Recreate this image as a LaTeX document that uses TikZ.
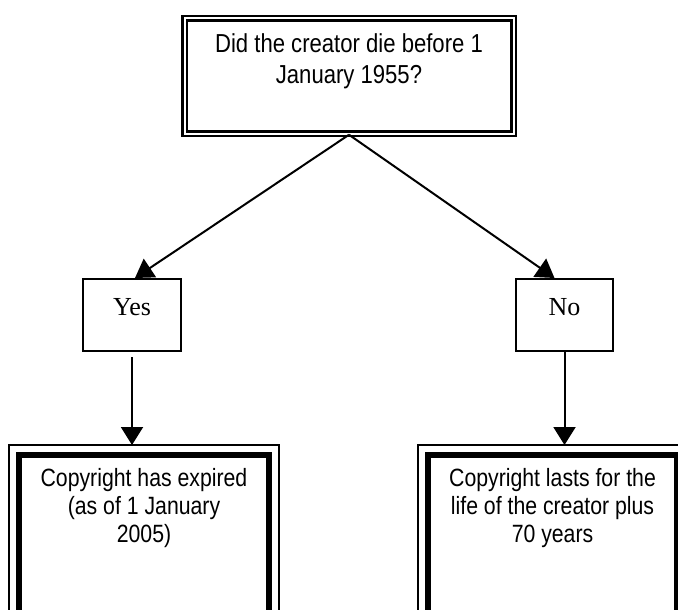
\documentclass[tikz,border=0pt]{standalone}
\usepackage{fontspec}
\setmainfont{Liberation Serif}
\newfontfamily\narrowsf[FakeStretch=0.85]{Liberation Sans}
\usetikzlibrary{arrows.meta,positioning,calc}

\tikzset{
  question/.style={draw, double, line width=2.5pt, double distance=2pt, inner sep=0pt},
  answer/.style={draw, line width=2pt, inner sep=0pt},
  result/.style={draw, line width=6pt, inner sep=0pt},
  link/.style={line width=2pt, -{Triangle[width=22pt,length=18pt]}},
}

\begin{document}
\begin{tikzpicture}[x=1pt, y=-1pt]
    \clip (0,0) rectangle (678,610);

    % Question
    \node[question] (q) at (349,76)
        {\parbox[c][115pt][t]{329pt}{\centering\narrowsf\fontsize{26}{31}\selectfont
        \vspace*{14.8pt}Did the creator die before 1\\ January 1955?}};

    % Answers
    \node[answer] (yes) at (132,315)
        {\parbox[c][72pt][t]{98pt}{\centering\fontsize{26}{30}\selectfont\vspace*{19pt}Yes}};
    \node[answer] (no) at (564.5,315)
        {\parbox[c][72pt][t]{97pt}{\centering\fontsize{26}{30}\selectfont\vspace*{19pt}No}};

    % Results
    \node[result] (expired) at (144,538.5)
        {\parbox[c][167pt][t]{250pt}{\centering\narrowsf\fontsize{25}{28}\selectfont
        \vspace*{13.75pt}Copyright has expired\\ (as of 1 January\\ 2005)}};
    \node[result] (lasts) at (552.5,538.5)
        {\parbox[c][167pt][t]{249pt}{\centering\narrowsf\fontsize{25}{28}\selectfont
        \vspace*{13.75pt}Copyright lasts for the\\ life of the creator plus\\ 70 years}};

    % Thin outer frames
    \draw[line width=2pt] ($(expired.north west)+(-7,-7)$) rectangle ($(expired.south east)+(7,7)$);
    \draw[line width=2pt] ($(lasts.north west)+(-7,-7)$) rectangle ($(lasts.south east)+(7,7)$);

    % Arrows
    \draw[link] (q.south) -- ([xshift=3pt]yes.north);
    \draw[link] (q.south) -- ([xshift=-10pt]no.north);
    \draw[link, shorten <=5pt] (yes.south) -- ([yshift=7pt]yes.south |- expired.north);
    \draw[link] (no.south) -- ([yshift=7pt]no.south |- lasts.north);
\end{tikzpicture}
\end{document}
